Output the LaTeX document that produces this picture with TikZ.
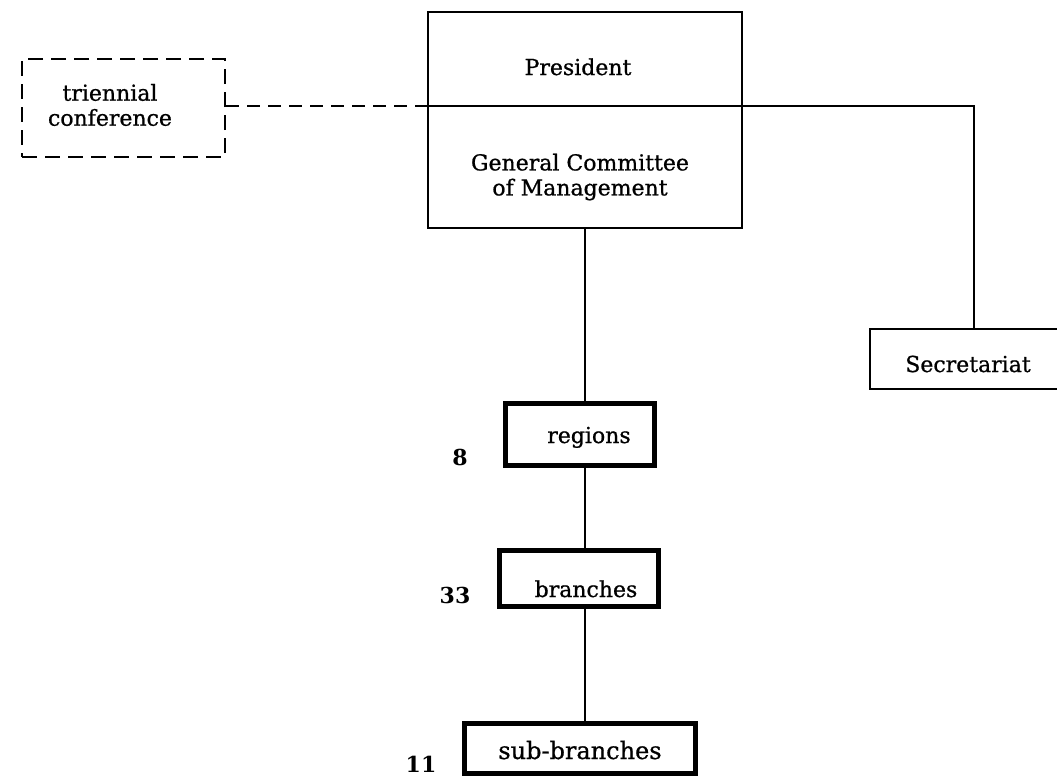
\documentclass[tikz,border=0pt]{standalone}
\usepackage{fontspec}
\setmainfont{DejaVu Serif}
\newfontfamily\lblfont{DejaVu Serif}[FakeBold=0.8]
\begin{document}
\begin{tikzpicture}[x=1pt,y=-1pt,
  thinbox/.style={draw, line width=2.5pt, inner sep=0pt},
  thickbox/.style={draw, line width=5pt, inner sep=0pt},
  dashbox/.style={draw, line width=2.5pt, dash pattern=on 15pt off 8pt, inner sep=0pt},
  lbl/.style={font=\lblfont\fontsize{22}{25}\selectfont, inner sep=0pt, anchor=base},
  num/.style={font=\fontsize{22}{25}\selectfont\bfseries, inner sep=0pt, anchor=base},
  link/.style={line width=2.5pt},
  dlink/.style={line width=2.5pt, dash pattern=on 13pt off 8pt}]
\clip (0,0) rectangle (1057,779);
\fill[white] (0,0) rectangle (1057,779);

% boxes
\node[thinbox, minimum width=314pt, minimum height=216pt] (pres) at (585,120) {};
\node[dashbox, minimum width=203pt, minimum height=98pt] (tri) at (123.5,108) {};
\node[thinbox, minimum width=196pt, minimum height=60pt] (sec) at (968,359) {};
\node[thickbox, minimum width=149pt, minimum height=62pt] (reg) at (580,434.5) {};
\node[thickbox, minimum width=159pt, minimum height=56pt] (br) at (579,578.5) {};
\node[thickbox, minimum width=231pt, minimum height=50pt] (sub) at (580,748.5) {};

% labels
\node[lbl] (presT) at (578,75) {President};
\node[lbl, align=center, anchor=center] (gcmT) at (580,177) {General Committee\\of Management};
\node[lbl, align=center, anchor=center] (triT) at (110,105) {triennial\\conference};
\node[lbl] (secT) at (968,372) {Secretariat};
\node[lbl] (regT) at (589,443) {regions};
\node[lbl] (brT) at (586,597) {branches};
\node[lbl, font=\lblfont\fontsize{24}{27}\selectfont] (subT) at (580,759) {sub-branches};

% counts
\node[num] (n8) at (460,465) {8};
\node[num] (n33) at (455,603) {33};
\node[num] (n11) at (421,772) {11};

% connectors
\coordinate (bend) at (974,106);
\draw[dlink] (tri.east |- bend) -- (pres.west |- bend);
\draw[link] (pres.west |- bend) -- (bend) -- (bend |- sec.north);
\draw[link] (pres.south) -- (pres.south |- reg.north);
\draw[link] (pres.south |- reg.south) -- (pres.south |- br.north);
\draw[link] (pres.south |- br.south) -- (pres.south |- sub.north);
\end{tikzpicture}
\end{document}
